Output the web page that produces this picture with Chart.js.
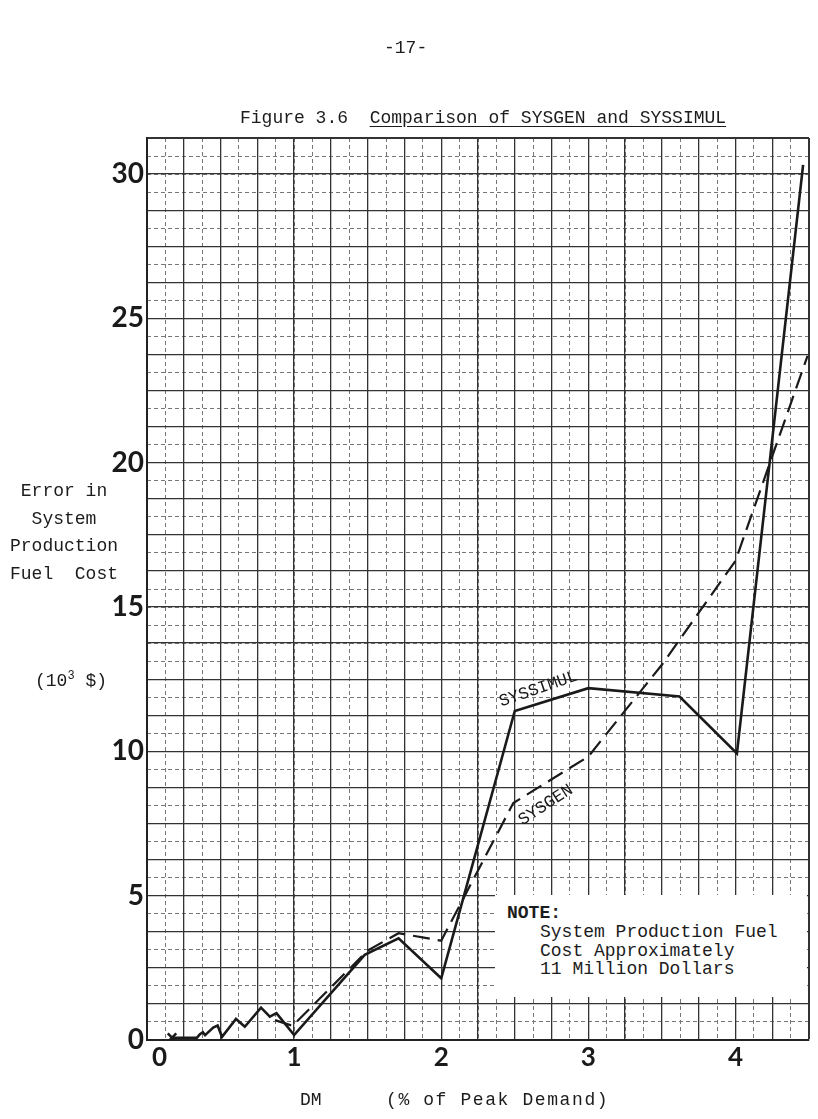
<!DOCTYPE html>
<html>
<head>
<meta charset="utf-8">
<script src="https://cdn.jsdelivr.net/npm/chart.js@4.4.1/dist/chart.umd.min.js"></script>
<style>
body { margin: 0; background: #fff; }
#wrap { position: relative; width: 818px; height: 1119px; font-family: "Liberation Mono", monospace; color: #1c1c1c; }
canvas { position: absolute; left: 0; top: 0; }
.t { position: absolute; white-space: pre; font-size: 18px; line-height: 1; }
</style>
</head>
<body>
<div id="wrap">
<canvas id="fig" width="818" height="1119"></canvas>

<div class="t" style="left:384px;top:39px;">-17-</div>
<div class="t" style="left:240px;top:109px;">Figure 3.6  <u style="text-underline-offset:3px">Comparison of SYSGEN and SYSSIMUL</u></div>

<div class="t" style="left:0;top:478px;width:128px;text-align:center;line-height:27.5px;">Error in
System
Production
Fuel  Cost</div>
<div class="t" style="left:0;top:670px;width:142px;text-align:center;">(10<sup style="font-size:12px">3</sup> $)</div>

<div class="t" style="left:300px;top:1091px;">DM</div>
<div class="t" style="left:386px;top:1091px;letter-spacing:1.6px;">(% of Peak Demand)</div>

<div style="position:absolute;left:495px;top:895px;width:312px;height:102px;background:#fff;">
  <div class="t" style="left:12px;top:9px;font-weight:bold;">NOTE:</div>
  <div class="t" style="left:45px;top:28px;line-height:18.5px;">System Production Fuel
Cost Approximately
11 Million Dollars</div>
</div>
</div>

<script>
// DM (% of peak demand) and error in production fuel cost (10^3 $)
var simulX = [0.17, 0.34, 0.36, 0.38, 0.395, 0.45, 0.48, 0.51, 0.605, 0.665, 0.775, 0.835, 0.88, 1.0, 1.48, 1.71, 2.0, 2.5, 3.0, 3.62, 4.01, 4.46];
var simulY = [0.08, 0.08, 0.2, 0.27, 0.17, 0.43, 0.5, 0.11, 0.73, 0.46, 1.12, 0.81, 0.93, 0.17, 2.95, 3.52, 2.14, 11.4, 12.19, 11.9, 9.93, 30.32];

var genX = [0.87, 0.99, 1.5, 1.71, 2.0, 2.49, 3.0, 3.5, 4.0, 4.49];
var genY = [0.69, 0.49, 3.1, 3.7, 3.44, 8.21, 9.82, 13.0, 16.6, 23.7];

// paper grid: heavy lines and light dashed lines in between
var xMax = 4.5, yMax = 31.25;
var xStepHeavy = 0.25, xStepLight = 0.125;
var yStepHeavy = 1.25, yStepLight = 0.625;
var xLabelEvery = 1, yLabelEvery = 5;

// curve labels, placed in data coordinates
var curveNames = ["SYSSIMUL", "SYSGEN"];
var curveLabelX = [2.66, 2.71];
var curveLabelY = [12.16, 8.14];
var curveLabelAngle = [-19, -33];

function toPoints(xs, ys) {
    var pts = [];
    for (var i = 0; i < xs.length; i++) {
        pts.push({x: xs[i], y: ys[i]});
    }
    return pts;
}

var ink = "#1a1a1a";

var curveLabels = {
    id: "curveLabels",
    afterDatasetsDraw: function(chart) {
        var ctx = chart.ctx;
        for (var i = 0; i < curveNames.length; i++) {
            var px = chart.scales.x.getPixelForValue(curveLabelX[i]);
            var py = chart.scales.y.getPixelForValue(curveLabelY[i]);
            ctx.save();
            ctx.translate(px, py);
            ctx.rotate(curveLabelAngle[i] * Math.PI / 180);
            ctx.font = '17px "Liberation Mono"';
            ctx.fillStyle = ink;
            ctx.textAlign = "center";
            ctx.textBaseline = "middle";
            ctx.fillText(curveNames[i], 0, 0);
            ctx.restore();
        }
    }
};

// fixed axis boxes so the plot area sits where the paper grid is
function zeroHeight(s) { s.height = 0; }
function zeroWidth(s) { s.width = 0; }
function xBox(s) { s.height = 79; }
function yBox(s) { s.width = 147; }

var ctx = document.getElementById("fig");
var fig = new Chart(ctx, {
    type: "line",
    data: {
        datasets: [{
            label: "SYSSIMUL",
            data: toPoints(simulX, simulY),
            borderColor: ink,
            borderWidth: 2.6,
            pointStyle: "crossRot",
            pointRadius: function(c) { return c.dataIndex === 0 ? 6 : 0; },
            pointBorderWidth: 2.5,
            pointBorderColor: ink,
            tension: 0
        }, {
            label: "SYSGEN",
            data: toPoints(genX, genY),
            borderColor: ink,
            borderWidth: 2.2,
            borderDash: [17, 8],
            pointRadius: 0,
            tension: 0
        }]
    },
    options: {
        responsive: false,
        animation: false,
        devicePixelRatio: 1,
        layout: { padding: { left: 0, right: 9, top: 138, bottom: 0 } },
        plugins: { legend: { display: false }, tooltip: { enabled: false } },
        scales: {
            x2: {
                type: "linear", position: "bottom", min: 0, max: xMax,
                afterFit: zeroHeight,
                ticks: { stepSize: xStepLight, display: false, autoSkip: false },
                grid: { color: "#777", lineWidth: 1, drawTicks: false },
                border: { display: false, dash: [4, 3] }
            },
            y2: {
                type: "linear", position: "left", min: 0, max: yMax,
                afterFit: zeroWidth,
                ticks: { stepSize: yStepLight, display: false, autoSkip: false },
                grid: { color: "#777", lineWidth: 1, drawTicks: false },
                border: { display: false, dash: [4, 3] }
            },
            x: {
                type: "linear", position: "bottom", min: 0, max: xMax,
                afterFit: xBox,
                ticks: {
                    stepSize: xStepHeavy, autoSkip: false, maxRotation: 0, padding: 2,
                    color: ink,
                    font: { family: "Lato", weight: "bold", size: 26 },
                    callback: function(v) {
                        if (v % xLabelEvery !== 0) return "";
                        return v === 0 ? "    0" : String(v);
                    }
                },
                grid: {
                    color: "#333", drawTicks: false,
                    lineWidth: function(c) { return (c.tick && c.tick.value === xMax) ? 2 : 1.3; }
                },
                border: { display: true, color: "#222", width: 2 }
            },
            y: {
                type: "linear", position: "left", min: 0, max: yMax,
                afterFit: yBox,
                ticks: {
                    stepSize: yStepHeavy, autoSkip: false, padding: 3,
                    color: ink,
                    font: { family: "Lato", weight: "bold", size: 28 },
                    callback: function(v) { return v % yLabelEvery === 0 ? String(v) : ""; }
                },
                grid: {
                    color: "#333", drawTicks: false,
                    lineWidth: function(c) { return (c.tick && c.tick.value === yMax) ? 2 : 1.3; }
                },
                border: { display: true, color: "#222", width: 2 }
            }
        }
    },
    plugins: [curveLabels]
});
</script>
</body>
</html>
